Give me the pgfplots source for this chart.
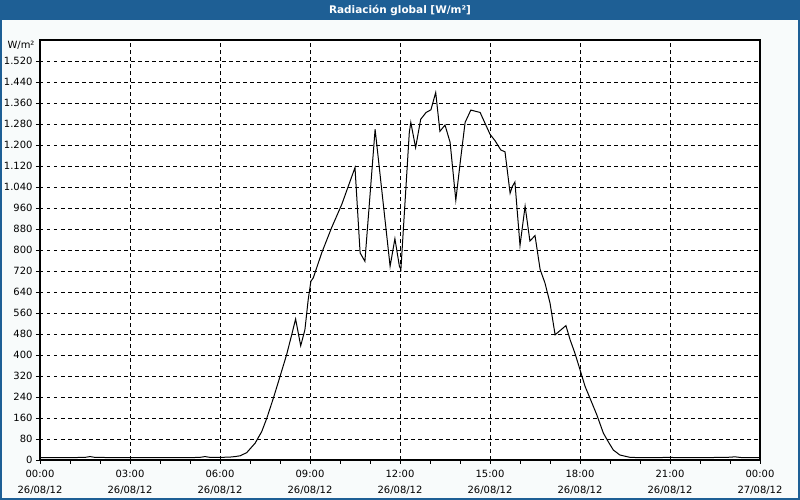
\documentclass[border=0pt]{standalone}
\usepackage{pgfplots}
\pgfplotsset{compat=1.18}
\usepackage{fontspec}
\setmainfont{DejaVu Sans}
\definecolor{titlebar}{HTML}{1E5F95}
\definecolor{outerbg}{HTML}{F8FBFB}
\begin{document}
\begin{tikzpicture}[x=1bp,y=1bp]
\fill[outerbg] (-40,-40) rectangle (760,460);
\fill[titlebar] (-40,440) rectangle (760,460);
\draw[titlebar,line width=2bp] (-39,-39) rectangle (759,459);
\node[text=white,font=\bfseries\fontsize{10.5}{12}\selectfont] at (360,450) {Radiación global [W/m²]};
\begin{axis}[
  at={(0,0)}, anchor=south west,
  scale only axis, width=720bp, height=420bp,
  xmin=0, xmax=24, ymin=0, ymax=1600,
  axis background/.style={fill=white},
  axis line style={black, line width=1.2bp},
  xtick={0,3,...,24},
  minor xtick={0,1,...,24},
  xticklabels={{00:00\\26/08/12},{03:00\\26/08/12},{06:00\\26/08/12},{09:00\\26/08/12},{12:00\\26/08/12},{15:00\\26/08/12},{18:00\\26/08/12},{21:00\\26/08/12},{00:00\\27/08/12}},
  xticklabel style={align=center, font=\fontsize{10}{16}\selectfont, yshift=-3bp},
  ytick={0,80,...,1520},
  yticklabel style={font=\fontsize{10}{12}\selectfont},
  /pgf/number format/assume math mode=true,
  /pgf/number format/1000 sep={.},
  scaled y ticks=false,
  tick pos=left, tick align=outside,
  major tick length=4bp, minor tick length=4bp,
  tick style={black, line width=0.8bp},
  xmajorgrids, ymajorgrids,
  major grid style={black, dashed, line width=0.7bp, dash pattern=on 3.5bp off 3.5bp},
  clip=true,
]
\addplot[black, line width=1bp] coordinates {
(0,9) (0.5,9) (1.0,9) (1.5,10) (1.67,13) (1.83,10) (2.5,9) (3,9) (4,9) (5,9)
(5.33,10) (5.5,13) (5.67,10) (6.0,10) (6.33,11) (6.5,13) (6.67,16) (6.89,28)
(7.17,64) (7.39,108) (7.56,159) (7.78,236) (8.0,318) (8.22,401) (8.39,477)
(8.52,537) (8.69,435) (8.83,496) (8.94,611) (9.03,681) (9.11,694) (9.39,789)
(9.72,885) (10.06,974) (10.5,1114) (10.67,789) (10.83,757) (11.17,1260)
(11.67,738) (11.83,843) (11.98,738) (12.03,726) (12.31,1248) (12.36,1286)
(12.52,1190) (12.69,1298) (12.87,1324) (13.03,1334) (13.19,1400) (13.33,1252)
(13.5,1276) (13.67,1210) (13.86,990) (14.02,1146) (14.17,1286) (14.36,1333)
(14.67,1324) (15.0,1241) (15.17,1216) (15.36,1181) (15.5,1174) (15.67,1016)
(15.74,1041) (15.83,1059) (16.0,817) (16.17,967) (16.33,834) (16.5,855)
(16.67,726) (16.83,675) (17.0,598) (17.17,477) (17.53,512) (17.67,458)
(17.83,407) (18.0,344) (18.17,280) (18.33,236) (18.56,172) (18.78,102)
(18.94,70) (19.11,38) (19.33,19) (19.67,10) (20.0,9) (20.5,9) (21.0,10)
(21.2,9) (22.0,9) (22.9,10) (23.17,12) (23.4,9) (24,9)
};
\end{axis}
\node[font=\fontsize{10}{12}\selectfont, anchor=east] at (-2,415) {W/m²};
\end{tikzpicture}
\end{document}
